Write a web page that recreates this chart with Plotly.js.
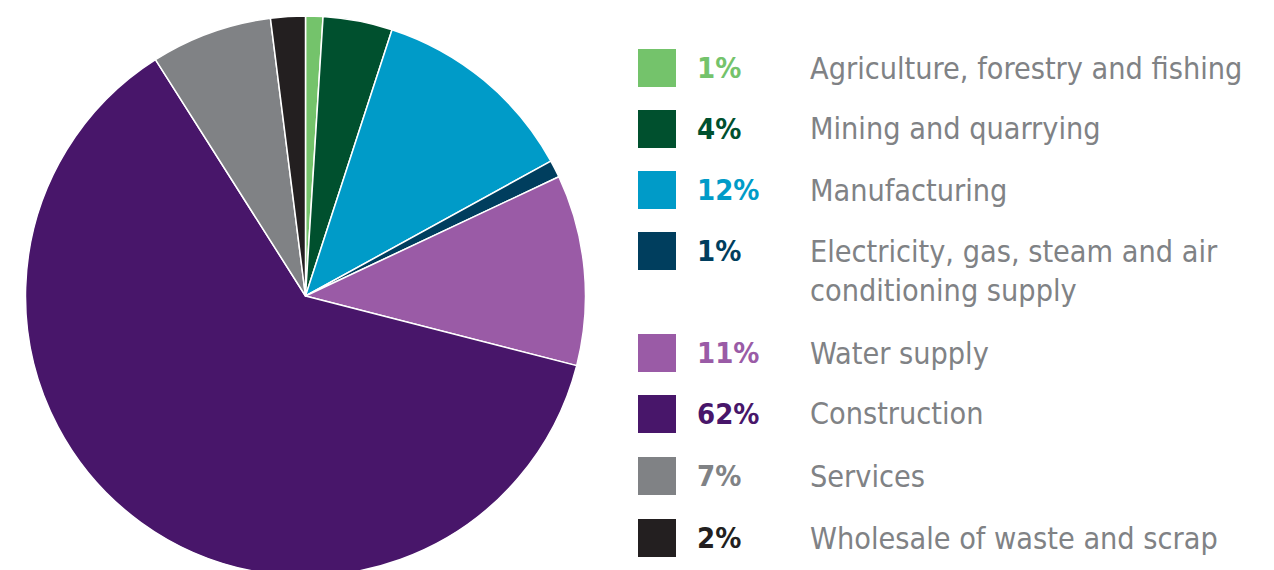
<!DOCTYPE html>
<html>
<head>
<meta charset="utf-8">
<script src="https://cdn.plot.ly/plotly-3.0.1.min.js"></script>
<style>
html, body { margin:0; padding:0; width:1274px; height:570px; overflow:hidden; background:#fff; }
#wrap { width:1274px; height:570px; overflow:hidden; }
#chart { width:1274px; height:590px; }
</style>
</head>
<body>
<div id="wrap"><div id="chart"></div></div>
<script>
const categories = [
  "Agriculture, forestry and fishing",
  "Mining and quarrying",
  "Manufacturing",
  "Electricity, gas, steam and air<br>conditioning supply",
  "Water supply",
  "Construction",
  "Services",
  "Wholesale of waste and scrap"
];
const shares = [1, 4, 12, 1, 11, 62, 7, 2];
const shareLabels = ["1%", "4%", "12%", "1%", "11%", "62%", "7%", "2%"];
const colors = ["#74c36b", "#00502e", "#009bc8", "#003e5e", "#9a5ba6", "#48166a", "#808285", "#231f20"];

const W = 1274, H = 590, T = 16, B = 14;
const PH = H - T - B;
const px = x => x / W;
const py = y => (T + PH - y) / PH;

const rowY = [68, 129, 190, 251, 353, 414, 476, 538];
const FONT = "'DejaVu Sans Condensed', 'Liberation Sans Narrow', sans-serif";

const annotations = [];
const shapes = [];
categories.forEach((c, i) => {
  const y = rowY[i];
  shapes.push({type:'rect', xref:'paper', yref:'paper',
    x0: px(638), x1: px(676), y0: py(y + 19), y1: py(y - 19),
    fillcolor: colors[i], line:{width:0}});
  annotations.push({xref:'paper', yref:'paper', x: px(695), y: py(y),
    xanchor:'left', yanchor:'middle', showarrow:false, text:'<b>' + shareLabels[i] + '</b>',
    font:{family:FONT, size:29, color:colors[i]}});
  const multi = c.indexOf('<br>') >= 0;
  annotations.push({xref:'paper', yref:'paper', x: px(808), y: py(multi ? y - 19 : y),
    xanchor:'left', yanchor: multi ? 'top' : 'middle', valign:'top', align:'left', showarrow:false, text:c,
    font:{family:FONT, size:30.3, color:'#808285'}});
});

Plotly.newPlot('chart', [{
  type:'pie',
  values: shares,
  labels: categories,
  sort:false,
  direction:'clockwise',
  rotation:0,
  textinfo:'none',
  hoverinfo:'label+percent',
  marker:{colors: colors, line:{color:'#ffffff', width:1.5}},
  domain:{x:[px(25), px(586)], y:[0, 1]},
  showlegend:false
}], {
  width: W, height: H,
  margin:{l:0, r:0, t:T, b:B},
  paper_bgcolor:'#ffffff',
  showlegend:false,
  annotations: annotations,
  shapes: shapes
}, {displayModeBar:false, staticPlot:true});
</script>
</body>
</html>
